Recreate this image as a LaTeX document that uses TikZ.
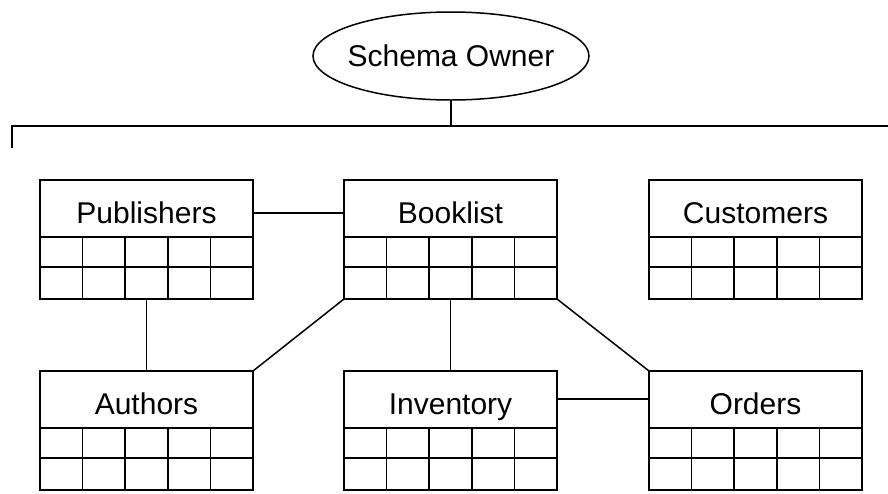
\documentclass[tikz,border=0pt]{standalone}
\usepackage{fontspec}
\setmainfont{Liberation Sans}
\usetikzlibrary{shapes.geometric,calc}

\tikzset{
  line/.style={line width=1.5pt, black},
  tablebox/.style={draw, line width=1.5pt, minimum width=213pt, minimum height=119pt,
    inner sep=0pt, outer sep=0pt, anchor=north west},
  title/.style={font=\fontsize{30}{30}\selectfont, inner sep=0pt, anchor=base},
  owner/.style={ellipse, draw, line width=1.5pt, minimum width=276pt, minimum height=88pt,
    inner xsep=-25pt, inner ysep=0pt, outer sep=0pt, font=\fontsize{30}{30}\selectfont},
}

% A table: boxed title row over a 5 x 2 grid of cells
\newcommand{\dbtable}[4]{%
  \node[tablebox] (#1) at (#2,#3) {};
  \node[title] (#1-title) at ($(#1.north)+(0,43)$) {#4};
  \draw[line] ($(#1.north west)+(0,57)$) -- ($(#1.north east)+(0,57)$);
  \draw[line] ($(#1.north west)+(0,87)$) -- ($(#1.north east)+(0,87)$);
  \foreach \k in {1,...,4}
    \draw[line] ($(#1.north west)+(\k*42.6,57)$) -- ($(#1.south west)+(\k*42.6,0)$);
}

\begin{document}
\begin{tikzpicture}[x=1pt, y=-1pt]
  \fill[white] (0,0) rectangle (888,493);
  \useasboundingbox (0,0) rectangle (888,493);

  % owner and the bus below it
  \node[owner] (owner) at (451,56) {Schema Owner};
  \coordinate (busL) at (12,126);
  \coordinate (busR) at (888,126);
  \coordinate (busT) at (12,148);
  \draw[line] (busT) -- (busL) -- (busR);
  \draw[line] (owner.south) -- (owner.south |- busL);

  % tables
  \dbtable{pub}{40}{180}{Publishers}
  \dbtable{book}{344}{180}{Booklist}
  \dbtable{cust}{649}{180}{Customers}
  \dbtable{auth}{40}{371}{Authors}
  \dbtable{inv}{344}{371}{Inventory}
  \dbtable{ord}{649}{371}{Orders}

  % relationships
  \draw[line] ($(pub.north east)+(0,33)$) -- ($(book.north west)+(0,33)$);
  \draw[line] (pub.south) -- (auth.north);
  \draw[line] (book.south west) -- (auth.north east);
  \draw[line] (book.south) -- (inv.north);
  \draw[line] (book.south east) -- (ord.north west);
  \draw[line] ($(inv.north east)+(0,28)$) -- ($(ord.north west)+(0,28)$);
\end{tikzpicture}
\end{document}
